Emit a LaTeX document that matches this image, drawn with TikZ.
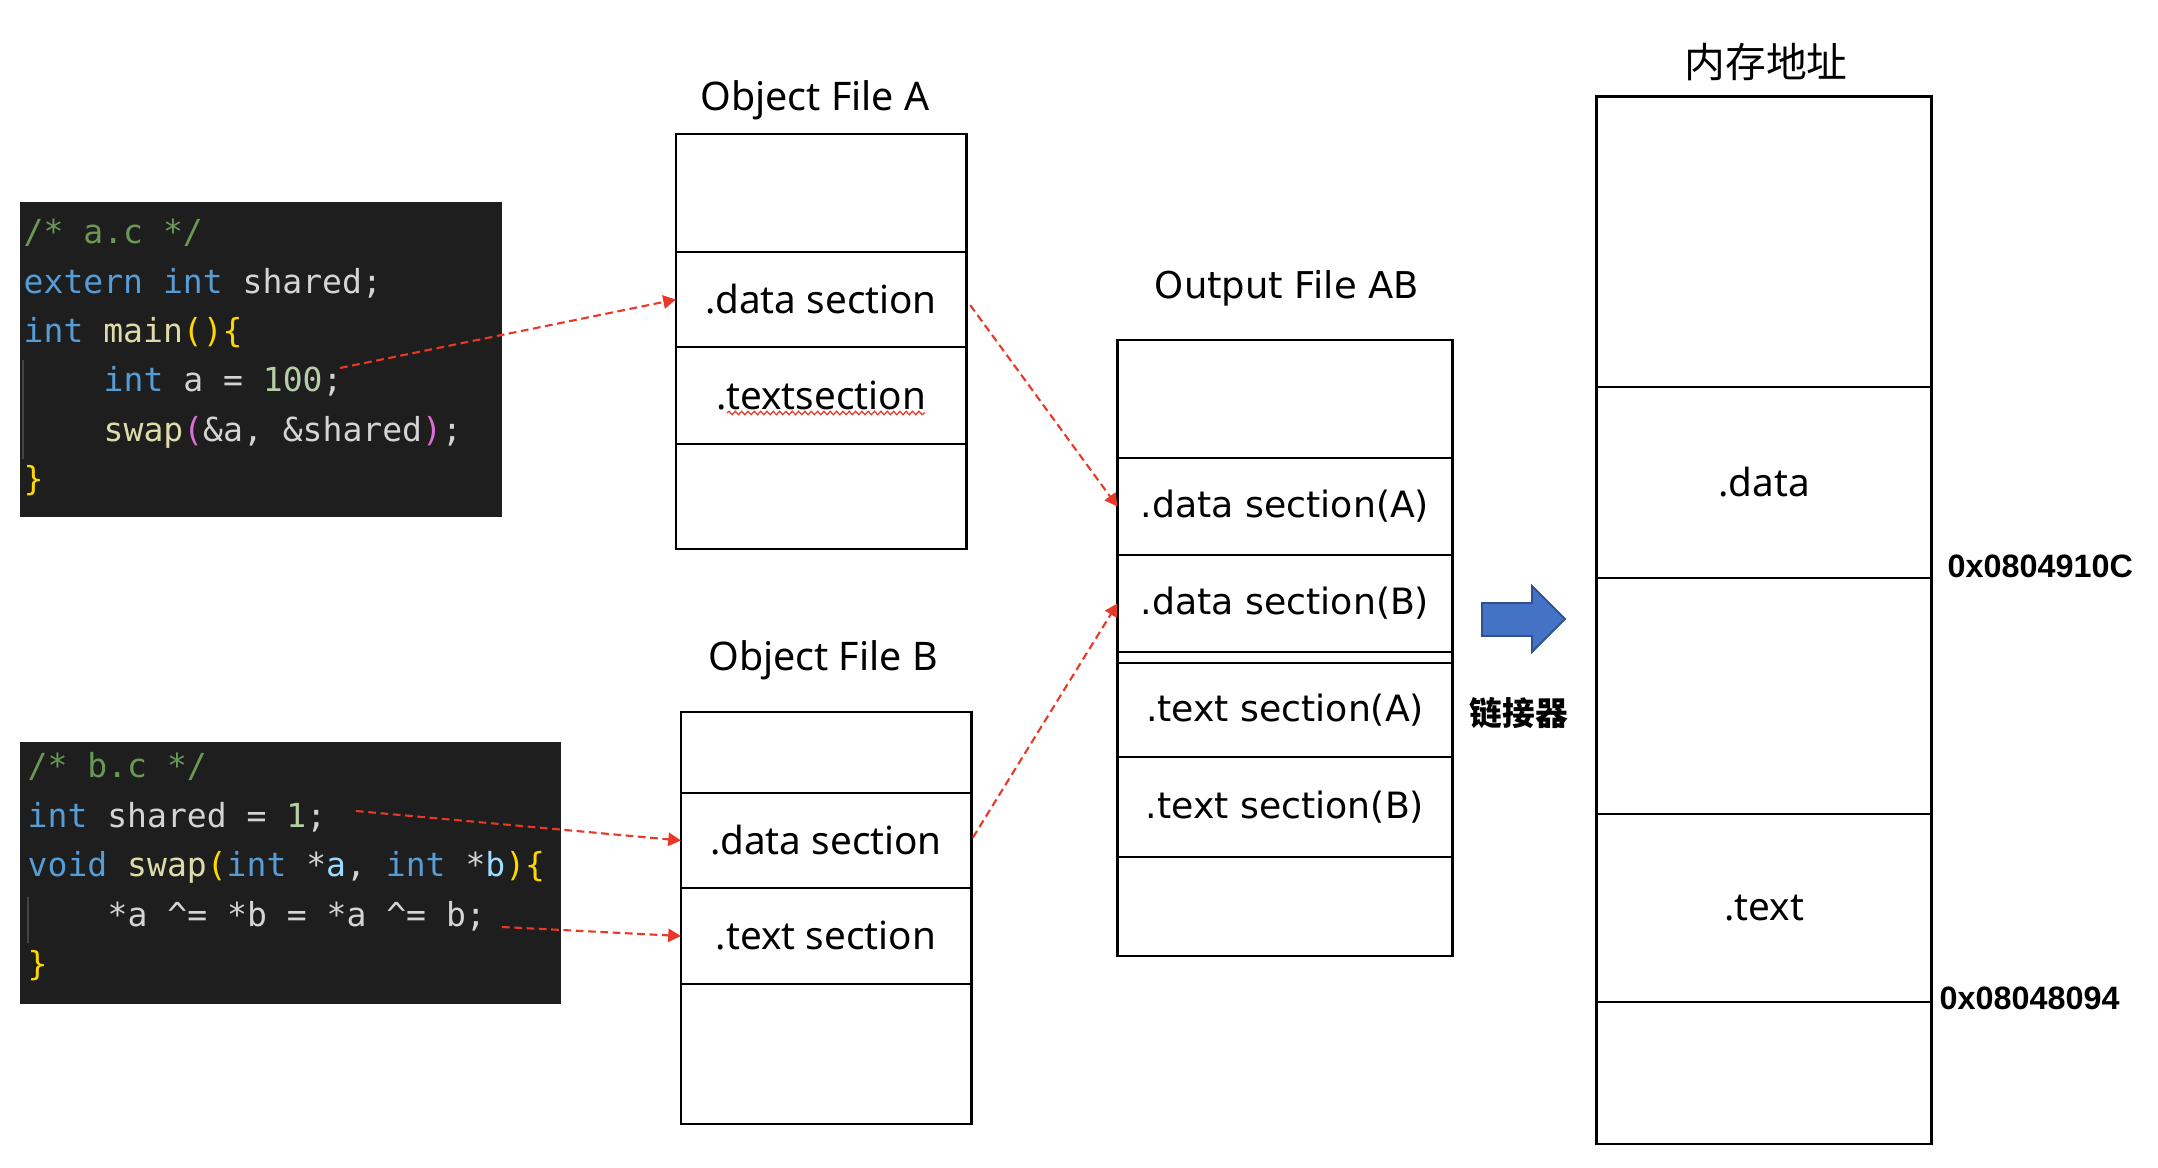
\documentclass[tikz,border=0pt]{standalone}
\usepackage{fontspec}
\setmainfont{Noto Sans}
\setmonofont{DejaVu Sans Mono}
\newfontfamily\verdfont{DejaVu Sans}
\newfontfamily\hexfont{Liberation Sans}
\newfontfamily\cjkfont{Noto Sans CJK SC}
\usepackage{tikz}
\usetikzlibrary{arrows.meta,snakes}

\definecolor{codebg}{RGB}{30,30,30}
\definecolor{codefg}{RGB}{212,212,212}
\definecolor{kwblue}{RGB}{86,156,214}
\definecolor{fnyellow}{RGB}{220,220,170}
\definecolor{brgold}{RGB}{255,215,0}
\definecolor{brpink}{RGB}{218,112,214}
\definecolor{numgreen}{RGB}{181,206,168}
\definecolor{comgreen}{RGB}{106,153,85}
\definecolor{parblue}{RGB}{156,220,254}
\definecolor{guidegray}{RGB}{68,68,68}
\definecolor{linkred}{RGB}{232,56,40}
\definecolor{arrowblue}{RGB}{68,114,196}
\definecolor{arrowedge}{RGB}{47,82,143}

\newcommand{\ckw}[1]{\textcolor{kwblue}{#1}}
\newcommand{\cfn}[1]{\textcolor{fnyellow}{#1}}
\newcommand{\cbr}[1]{\textcolor{brgold}{#1}}
\newcommand{\cbrp}[1]{\textcolor{brpink}{#1}}
\newcommand{\cnum}[1]{\textcolor{numgreen}{#1}}
\newcommand{\ccom}[1]{\textcolor{comgreen}{#1}}
\newcommand{\cpar}[1]{\textcolor{parblue}{#1}}

\tikzset{
  sect/.style={draw, line width=0.8pt, inner sep=0pt, outer sep=0pt,
    font=\fontsize{11pt}{13pt}\selectfont},
  outsect/.style={sect, minimum width=3.35cm, font=\verdfont\fontsize{10.3pt}{12pt}\selectfont},
  memsect/.style={sect, minimum width=3.35cm},
  title/.style={inner sep=0pt, font=\fontsize{11.2pt}{13pt}\selectfont},
  codeline/.style={anchor=base west, inner sep=0pt, text=codefg,
    font=\ttfamily\fontsize{9.4pt}{11pt}\selectfont},
  addr/.style={anchor=west, inner sep=0pt, font=\hexfont\bfseries\fontsize{9.2pt}{11pt}\selectfont},
  link/.style={draw=linkred, line width=0.6pt, dash pattern=on 2.2pt off 1.3pt,
    -{Triangle[length=3.6pt,width=3.8pt]}, linkred}
}

\begin{document}
\begin{tikzpicture}[x=0.01cm, y=-0.01cm]
\useasboundingbox (0,0) rectangle (2158,1168);
% a.c
\fill[codebg] (20,202) rectangle (502,517);
\draw[guidegray, line width=0.5pt] (23,360) -- (23,459);
\node[codeline] (la1) at (23,244) {\ccom{/* a.c */}};
\node[codeline] (la2) at (23,294) {\ckw{extern} \ckw{int} shared;};
\node[codeline] (la3) at (23,343) {\ckw{int} \cfn{main}\cbr{()\{}};
\node[codeline] (la4) at (103,392) {\ckw{int} a = \cnum{100};};
\node[codeline] (la5) at (103,442) {\cfn{swap}\cbrp{(}\&a, \&shared\cbrp{)};};
\node[codeline] (la6) at (23,491) {\cbr{\}}};
\coordinate (a100) at (340,368);
% b.c
\fill[codebg] (20,742) rectangle (561,1004);
\draw[guidegray, line width=0.5pt] (28,897) -- (28,943);
\node[codeline] (lb1) at (27,778) {\ccom{/* b.c */}};
\node[codeline] (lb2) at (27,828) {\ckw{int} shared = \cnum{1};};
\node[codeline] (lb3) at (27,877) {\ckw{void} \cfn{swap}\cbr{(}\ckw{int} *\cpar{a}, \ckw{int} *\cpar{b}\cbr{)\{}};
\node[codeline] (lb4) at (107,927) {*a \textasciicircum= *b = *a \textasciicircum= b;};
\node[codeline] (lb5) at (27,976) {\cbr{\}}};
\coordinate (sharedB) at (356,811);
\coordinate (swapB) at (502,927);

\begin{scope}[shift={(821,0)}]
\node[title] (ta) at (-6,100) {Object File A};
\node[sect, minimum width=2.9cm, minimum height=1.18cm] (oa0) at (0,193) {};
\node[sect, minimum width=2.9cm, minimum height=0.95cm] (oa1) at (0,299.5) {.data section};
\node[sect, minimum width=2.9cm, minimum height=0.97cm] (oa2) at (0,395.5) {.textsection};
\node[sect, minimum width=2.9cm, minimum height=1.05cm] (oa3) at (0,496.5) {};
\end{scope}
\draw[linkred, line width=0.35pt, snake=snake, segment amplitude=0.5pt, segment length=1.8pt]
  (727,413) -- (925,413);

\begin{scope}[shift={(826,0)}]
\node[title] (tb) at (-3,660) {Object File B};
\node[sect, minimum width=2.9cm, minimum height=0.81cm] (ob0) at (0,752.5) {};
\node[sect, minimum width=2.9cm, minimum height=0.95cm] (ob1) at (0,840.5) {.data section};
\node[sect, minimum width=2.9cm, minimum height=0.96cm] (ob2) at (0,936) {.text section};
\node[sect, minimum width=2.9cm, minimum height=1.40cm] (ob3) at (0,1054) {};
\end{scope}

\begin{scope}[shift={(1285,0)}]
\node[title, font=\verdfont\fontsize{10.5pt}{12pt}\selectfont] (tab) at (2,288) {Output File AB};
\node[outsect, minimum height=1.18cm] (ab0) at (0,399) {};
\node[outsect, minimum height=0.97cm] (ab1) at (0,506.5) {.data section(A)};
\node[outsect, minimum height=0.97cm] (ab2) at (0,603.5) {.data section(B)};
\node[outsect, minimum height=0.11cm] (ab3) at (0,657.5) {};
\node[outsect, minimum height=0.94cm] (ab4) at (0,710) {.text section(A)};
\node[outsect, minimum height=1.00cm] (ab5) at (0,807) {.text section(B)};
\node[outsect, minimum height=0.99cm] (ab6) at (0,906.5) {};
\end{scope}

% linker arrow
\filldraw[fill=arrowblue, draw=arrowedge, line width=0.5pt]
  (1482,603) -- (1532,603) -- (1532,586) -- (1565,619) -- (1532,652) -- (1532,636) -- (1482,636) -- cycle;
\node[inner sep=0pt, font=\cjkfont\bfseries\fontsize{9.3pt}{11pt}\selectfont] (linker) at (1519,713) {链接器};

\begin{scope}[shift={(1764,0)}]
\node[title, font=\cjkfont\fontsize{11.6pt}{13pt}\selectfont] (tm) at (2,62) {内存地址};
\node[memsect, minimum height=2.90cm] (m0) at (0,242) {};
\node[memsect, minimum height=1.91cm] (m1) at (0,482.5) {.data};
\node[memsect, minimum height=2.36cm] (m2) at (0,696) {};
\node[memsect, minimum height=1.88cm] (m3) at (0,908) {.text};
\node[memsect, minimum height=1.42cm] (m4) at (0,1073) {};
\end{scope}
\node[addr] (hex1) at (1947,566) {0x0804910C};
\node[addr] (hex2) at (1939,998) {0x08048094};

\draw[link] (a100) -- (oa1.west);
\draw[link, shorten <=2pt] (oa1.east) -- (ab1.west);
\draw[link, shorten <=1pt] (ob1.east) -- (ab2.west);
\draw[link] (sharedB) -- (ob1.west);
\draw[link] (swapB) -- (ob2.west);
\end{tikzpicture}
\end{document}
